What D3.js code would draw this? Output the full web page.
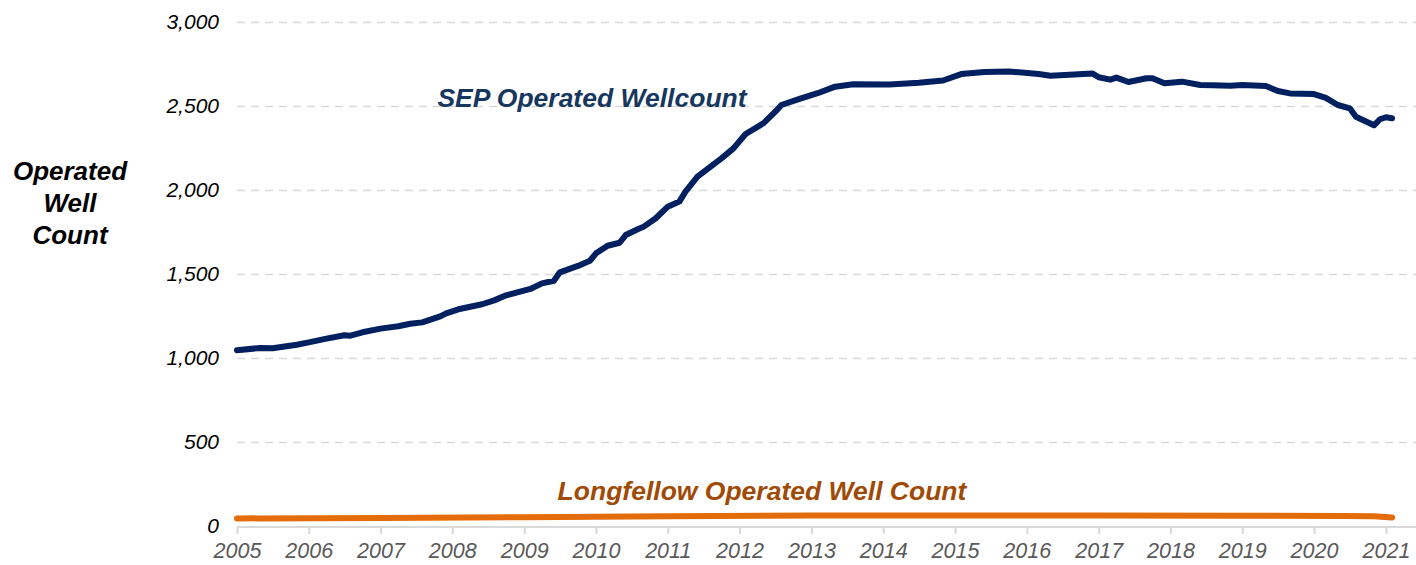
<!DOCTYPE html>
<html>
<head>
<meta charset="utf-8">
<script src="https://cdn.jsdelivr.net/npm/d3@7"></script>
<style>
  body { margin: 0; background: #fff; }
  svg { display: block; font-family: "Liberation Sans", Arial, sans-serif; }
  .grid line { stroke: #d9d9d9; stroke-width: 1.5; stroke-dasharray: 8 6; }
  .grid .domain { display: none; }
  .ylab text { font-size: 21px; font-style: italic; fill: #000; }
  .xaxis text { font-size: 21.5px; font-style: italic; fill: #595959; }
  .xaxis line, .xaxis path { stroke: #d9d9d9; stroke-width: 2; }
</style>
</head>
<body>
<svg width="1416" height="565"></svg>
<script>
// SEP operated well count (month, wells)
const sepMonths = ["2005-01","2005-05","2005-07","2005-11","2006-01","2006-04","2006-07","2006-08","2006-10",
  "2007-01","2007-04","2007-06","2007-08","2007-11","2007-12","2008-02","2008-06","2008-08","2008-10",
  "2009-02","2009-04","2009-06","2009-07","2009-10","2009-12","2010-01","2010-03","2010-05","2010-06","2010-08",
  "2010-09","2010-11","2011-01","2011-03","2011-04","2011-06","2011-10","2011-12","2012-02","2012-05","2012-07",
  "2012-08","2012-11","2013-02","2013-05","2013-08","2014-02","2014-07","2014-11","2015-02","2015-06","2015-10",
  "2016-03","2016-05","2016-12","2017-01","2017-03","2017-04","2017-06","2017-09","2017-10","2017-12","2018-03",
  "2018-06","2018-08","2018-11","2019-01","2019-05","2019-07","2019-09","2020-01","2020-03","2020-05","2020-07",
  "2020-08","2020-11","2020-12","2021-01","2021-02"];
const sepValues = [1046,1060,1058,1079,1093,1115,1135,1133,1153,
  1175,1189,1204,1212,1248,1266,1290,1320,1343,1373,
  1411,1444,1460,1510,1548,1579,1623,1668,1686,1732,1766,
  1782,1832,1901,1931,1990,2079,2188,2248,2333,2397,2466,
  2506,2542,2576,2615,2630,2628,2638,2652,2690,2702,2706,
  2690,2680,2693,2671,2657,2669,2643,2665,2665,2635,2645,
  2625,2623,2621,2625,2619,2589,2575,2571,2548,2506,2486,
  2436,2385,2421,2433,2427];

// Longfellow operated well count
const lfMonths = ["2005-01","2007-01","2009-01","2011-01","2013-01","2015-01","2017-01","2019-01","2020-06","2020-11","2021-02"];
const lfValues = [45,48,52,58,62,62,62,61,60,58,50];

const yTicks = [0, 500, 1000, 1500, 2000, 2500, 3000];
const xYears = d3.range(2005, 2022);
const yTitle = ["Operated", "Well", "Count"];

const parseMonth = d3.timeParse("%Y-%m");
const sep = sepMonths.map((m, i) => ({date: parseMonth(m), value: sepValues[i]}));
const lf = lfMonths.map((m, i) => ({date: parseMonth(m), value: lfValues[i]}));

const svg = d3.select("svg");

const x = d3.scaleTime()
    .domain([new Date(2005, 0, 1), new Date(2021, 0, 1)])
    .range([237, 1386]);

const y = d3.scaleLinear()
    .domain([0, 3000])
    .range([526, 22]);

// dashed gridlines
svg.append("g")
    .attr("class", "grid")
    .attr("transform", "translate(237,0)")
    .call(d3.axisLeft(y).tickValues(yTicks.filter(d => d > 0)).tickSize(-1179).tickFormat(""));

// y tick labels
svg.append("g")
    .attr("class", "ylab")
    .selectAll("text")
    .data(yTicks)
    .enter()
    .append("text")
    .attr("x", 219)
    .attr("y", d => y(d))
    .attr("dy", "0.35em")
    .attr("text-anchor", "end")
    .text(d3.format(","));

// x axis
const xAxis = svg.append("g")
    .attr("class", "xaxis")
    .attr("transform", "translate(0,527)")
    .call(d3.axisBottom(x)
        .tickValues(xYears.map(yr => new Date(yr, 0, 1)))
        .tickFormat(d3.timeFormat("%Y"))
        .tickSize(7)
        .tickSizeOuter(0));
xAxis.select(".domain").attr("d", "M237,0H1416");
xAxis.selectAll("text").attr("y", 16).attr("dy", "0.71em");

// axis title
svg.append("text")
    .attr("font-size", 26)
    .attr("font-weight", "bold")
    .attr("font-style", "italic")
    .attr("text-anchor", "middle")
    .selectAll("tspan")
    .data(yTitle)
    .enter()
    .append("tspan")
    .attr("x", 70)
    .attr("y", (d, i) => 180 + i * 32)
    .text(d => d);

const line = d3.line()
    .x(d => x(d.date))
    .y(d => y(d.value));

svg.append("path")
    .datum(lf)
    .attr("fill", "none")
    .attr("stroke", "#e46c0a")
    .attr("stroke-width", 6)
    .attr("stroke-linejoin", "round")
    .attr("stroke-linecap", "round")
    .attr("d", line);

svg.append("path")
    .datum(sep)
    .attr("fill", "none")
    .attr("stroke", "#002060")
    .attr("stroke-width", 6)
    .attr("stroke-linejoin", "round")
    .attr("stroke-linecap", "round")
    .attr("d", line);

// series labels
svg.append("text")
    .attr("x", 592)
    .attr("y", 107)
    .attr("text-anchor", "middle")
    .attr("font-size", 26.5)
    .attr("font-weight", "bold")
    .attr("font-style", "italic")
    .attr("fill", "#17375e")
    .text("SEP Operated Wellcount");

svg.append("text")
    .attr("x", 762)
    .attr("y", 500)
    .attr("text-anchor", "middle")
    .attr("font-size", 26.5)
    .attr("font-weight", "bold")
    .attr("font-style", "italic")
    .attr("fill", "#a04a06")
    .text("Longfellow Operated Well Count");
</script>
</body>
</html>
